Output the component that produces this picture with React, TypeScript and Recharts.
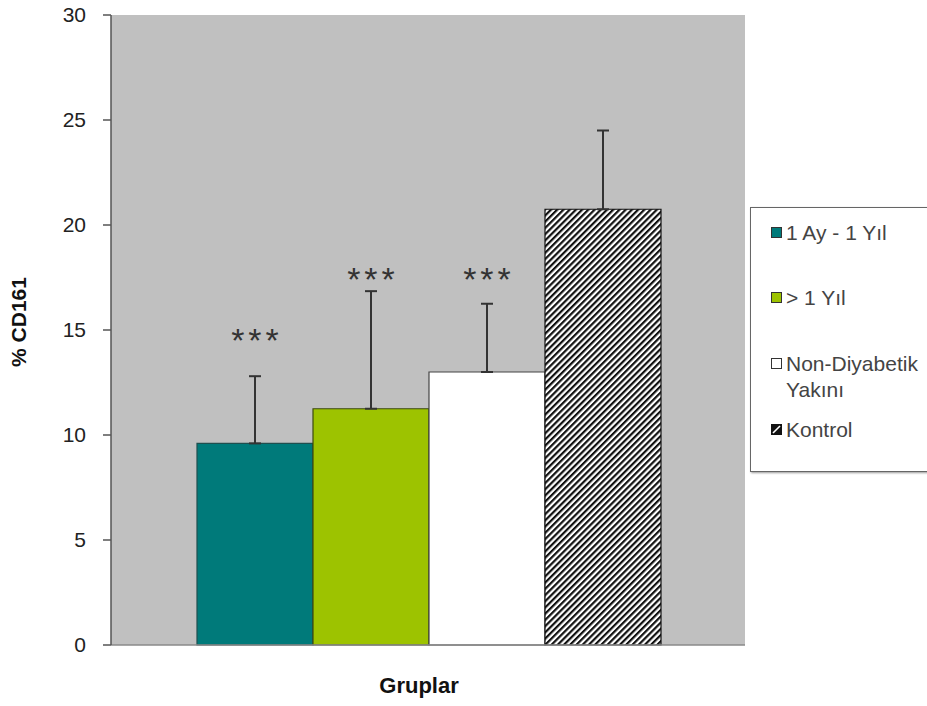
import { Bar, BarChart, CartesianGrid, ErrorBar, LabelList, XAxis, YAxis } from "recharts";

// groups, in drawing order
const groups = ["1 Ay - 1 Yıl", "> 1 Yıl", "Non-Diyabetik Yakını", "Kontrol"];
const keys = ["g1", "g2", "g3", "g4"];
// mean % CD161 per group
const means = [9.6, 11.25, 13.0, 20.75];
// upper SD (only the upward whisker is drawn)
const sds = [3.2, 5.6, 3.25, 3.75];
// height of the "***" marks (null = no mark)
const stars = [14.85, 17.75, 17.75, null];
const yTicks = [0, 5, 10, 15, 20, 25, 30];

const fills = ["#007a7a", "#9dc300", "#ffffff", "url(#hatch)"];
const strokes = ["#1f4f4f", "#3c4a10", "#444444", "#111111"];

const row: Record<string, any> = { name: "" };
keys.forEach((k, i) => {
  row[k] = means[i];
  row[k + "Err"] = [0, sds[i]];
});
const data = [row];

const font = "'Liberation Sans', Arial, sans-serif";

// draws the significance mark at its value using the bar's own px/unit
function starLabel(i: number) {
  return (props: any) => {
    const s = stars[i];
    if (s == null) return null;
    const { x, y, width, height, value } = props;
    const v = Array.isArray(value) ? value[1] : value;
    const perUnit = height / v;
    const cy = y + height - s * perUnit;
    return (
      <text
        x={x + width / 2 + 2}
        y={cy + 19}
        textAnchor="middle"
        fontFamily={font}
        fontSize={34}
        fill="#333"
        letterSpacing={4}
      >
        ***
      </text>
    );
  };
}

// rotated y-axis title, a little above the plot's middle like the original
function YTitle(props: any) {
  const vb = props.viewBox || { x: 0, y: 15, width: 111, height: 630 };
  const cx = vb.x + 19;
  const cy = vb.y + vb.height / 2 - 8;
  return (
    <text
      x={cx}
      y={cy}
      dy="0.35em"
      transform={`rotate(-90 ${cx} ${cy})`}
      textAnchor="middle"
      fontFamily={font}
      fontWeight="bold"
      fontSize={21}
      fill="#111"
    >
      % CD161
    </text>
  );
}

function LegendBox() {
  const icon = (i: number) => {
    if (i === 3) {
      return (
        <svg width={11} height={11} style={{ display: "block" }}>
          <rect x={0.5} y={0.5} width={10} height={10} fill="#111" stroke="#111" />
          <line x1={2} y1={9} x2={9} y2={2} stroke="#fff" strokeWidth={1.6} />
        </svg>
      );
    }
    return (
      <svg width={11} height={11} style={{ display: "block" }}>
        <rect x={0.5} y={0.5} width={10} height={10} fill={fills[i]} stroke="#333" />
      </svg>
    );
  };
  const tops = [220, 285, 351, 417];
  return (
    <div
      style={{
        position: "absolute",
        left: 750,
        top: 207,
        width: 190,
        height: 263,
        border: "1px solid #666",
        boxShadow: "1px 1px 2px #999",
        background: "#fff",
        fontFamily: font,
        fontSize: 21,
        color: "#444",
      }}
    >
      {groups.map((g, i) => (
        <div
          key={g}
          style={{
            position: "absolute",
            left: 20,
            top: tops[i] - 208,
            display: "flex",
            alignItems: "flex-start",
            lineHeight: "26px",
            whiteSpace: "nowrap",
          }}
        >
          <span style={{ marginTop: 7, marginRight: 4 }}>{icon(i)}</span>
          {i === 2 ? (
            <span>
              Non-Diyabetik
              <br />
              Yakını
            </span>
          ) : (
            <span>{g}</span>
          )}
        </div>
      ))}
    </div>
  );
}

export default function App() {
  return (
    <div style={{ position: "absolute", left: 0, top: 0, width: 927, height: 706, background: "#fff" }}>
      <BarChart
        width={927}
        height={706}
        data={data}
        margin={{ top: 15, right: 182, bottom: 0, left: 0 }}
        barCategoryGap={86}
        barGap={0}
      >
        <defs>
          <pattern id="hatch" width={4.4} height={4.4} patternUnits="userSpaceOnUse" patternTransform="rotate(45)">
            <rect x={0} y={0} width={4.4} height={4.4} fill="#fff" />
            <rect x={0} y={0} width={2.2} height={4.4} fill="#111" />
          </pattern>
        </defs>
        <CartesianGrid fill="#c0c0c0" stroke="none" horizontal={false} vertical={false} />
        <XAxis
          dataKey="name"
          tick={false}
          tickLine={false}
          axisLine={{ stroke: "#8a8a8a", strokeWidth: 1.5 }}
          height={61}
          label={{
            value: "Gruplar",
            position: "insideBottom",
            offset: 13,
            dx: -9,
            style: { fontFamily: font, fontWeight: "bold", fontSize: 22, fill: "#111" },
          }}
        />
        <YAxis
          width={111}
          domain={[0, 30]}
          ticks={yTicks}
          interval={0}
          tickSize={8}
          tickMargin={17}
          axisLine={{ stroke: "#555", strokeWidth: 1.5 }}
          tickLine={{ stroke: "#555", strokeWidth: 1.5 }}
          tick={{ fontFamily: font, fontSize: 21, fill: "#222" }}
          label={<YTitle />}
        />
        {keys.map((k, i) => (
          <Bar
            key={k}
            dataKey={k}
            fill={fills[i]}
            stroke={strokes[i]}
            strokeWidth={1.2}
            isAnimationActive={false}
          >
            <ErrorBar
              dataKey={k + "Err"}
              direction="y"
              width={6}
              stroke="#333"
              strokeWidth={2}
              isAnimationActive={false}
            />
            <LabelList dataKey={k} content={starLabel(i)} />
          </Bar>
        ))}
      </BarChart>
      <LegendBox />
    </div>
  );
}
